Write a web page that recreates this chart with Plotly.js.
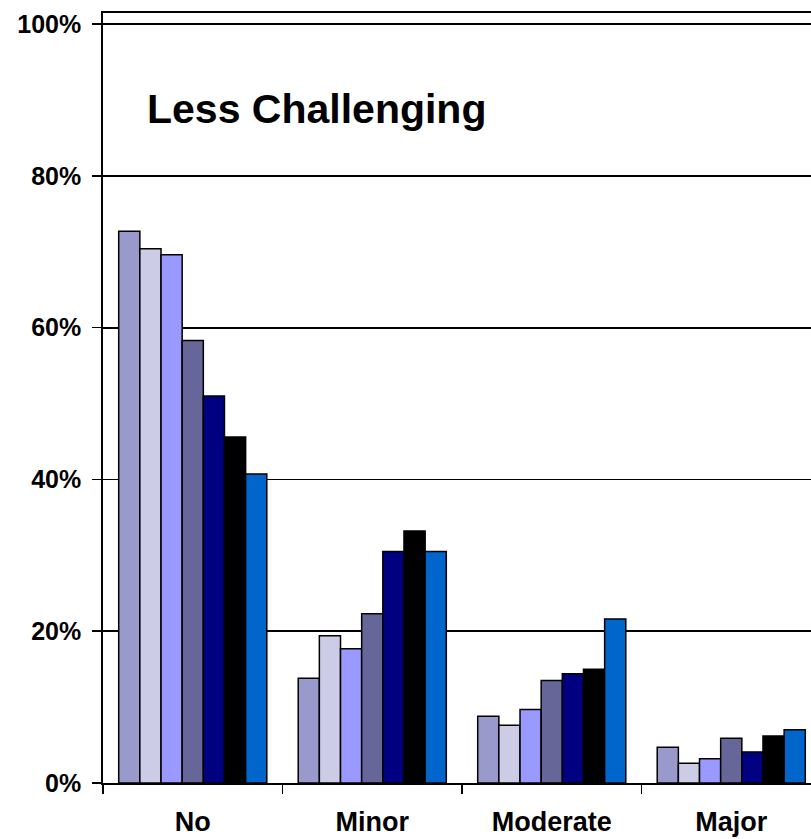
<!DOCTYPE html>
<html>
<head>
<meta charset="utf-8">
<script src="https://cdn.plot.ly/plotly-3.0.1.min.js"></script>
<style>
  html, body { margin: 0; padding: 0; background: #ffffff; }
  #chart { width: 811px; height: 839px; }
</style>
</head>
<body>
<div id="chart"></div>
<script>
// Impairment level categories along the x axis
const categories = ['No', 'Minor', 'Moderate', 'Major'];

// Percentages for each of the seven groups (one value per category)
const group1 = [72.7, 13.8, 8.8, 4.7];
const group2 = [70.4, 19.4, 7.6, 2.6];
const group3 = [69.6, 17.7, 9.7, 3.2];
const group4 = [58.3, 22.3, 13.5, 5.9];
const group5 = [51.0, 30.5, 14.4, 4.1];
const group6 = [45.6, 33.2, 15.0, 6.2];
const group7 = [40.7, 30.5, 21.6, 7.0];

// y axis tick values and their labels
const yTickVals = [0, 20, 40, 60, 80, 100];
const yTickText = ['0%', '20%', '40%', '60%', '80%', '100%'];

const chartTitle = 'Less Challenging';

const seriesValues = [group1, group2, group3, group4, group5, group6, group7];
const seriesColors = ['#9999CC', '#CCCCE6', '#9999FF', '#666699', '#000080', '#000000', '#0066CC'];

const FONT = '"Liberation Sans", Arial, Helvetica, sans-serif';

const traces = seriesValues.map((vals, i) => ({
  type: 'bar',
  x: categories,
  y: vals,
  name: 'Group ' + (i + 1),
  marker: { color: seriesColors[i], line: { color: '#000000', width: 1.5 } },
  hoverinfo: 'x+y'
}));

// Plot area spans 103px..(beyond right edge); one category is ~179.5px wide
const plotLeft = 103;
const catWidth = 179.5;
const xMax = -0.5 + (811 - plotLeft) / catWidth;

const layout = {
  width: 811,
  height: 839,
  margin: { l: plotLeft, r: 0, t: 13, b: 56, pad: 0 },
  paper_bgcolor: '#ffffff',
  plot_bgcolor: '#ffffff',
  showlegend: false,
  barmode: 'group',
  bargap: 0.175,
  bargroupgap: 0,
  font: { family: FONT, color: '#000000' },
  xaxis: {
    type: 'category',
    range: [-0.5, xMax],
    showline: true,
    linecolor: '#000000',
    linewidth: 1.8,
    mirror: true,
    showgrid: false,
    zeroline: false,
    ticks: 'outside',
    tickson: 'boundaries',
    ticklen: 9,
    tickwidth: 1.5,
    tickcolor: '#000000',
    ticklabelstandoff: 14,
    tickfont: { family: FONT, size: 27, color: '#000000', weight: 'bold' },
    fixedrange: true
  },
  yaxis: {
    range: [0, 101.45],
    tickmode: 'array',
    tickvals: yTickVals,
    ticktext: yTickText,
    showline: true,
    linecolor: '#000000',
    linewidth: 1.8,
    showgrid: true,
    gridcolor: '#000000',
    gridwidth: 1.8,
    zeroline: false,
    ticks: 'outside',
    ticklen: 9,
    tickwidth: 1.5,
    tickcolor: '#000000',
    ticklabelstandoff: 6,
    tickfont: { family: FONT, size: 25, color: '#000000', weight: 'bold' },
    fixedrange: true
  },
  annotations: [{
    text: chartTitle,
    xref: 'paper',
    yref: 'y',
    x: (145 - plotLeft) / (811 - plotLeft),
    y: 88.84,
    xanchor: 'left',
    yanchor: 'middle',
    showarrow: false,
    font: { family: FONT, size: 41, color: '#000000', weight: 'bold' }
  }]
};

Plotly.newPlot('chart', traces, layout, { displayModeBar: false, staticPlot: true });
</script>
</body>
</html>
